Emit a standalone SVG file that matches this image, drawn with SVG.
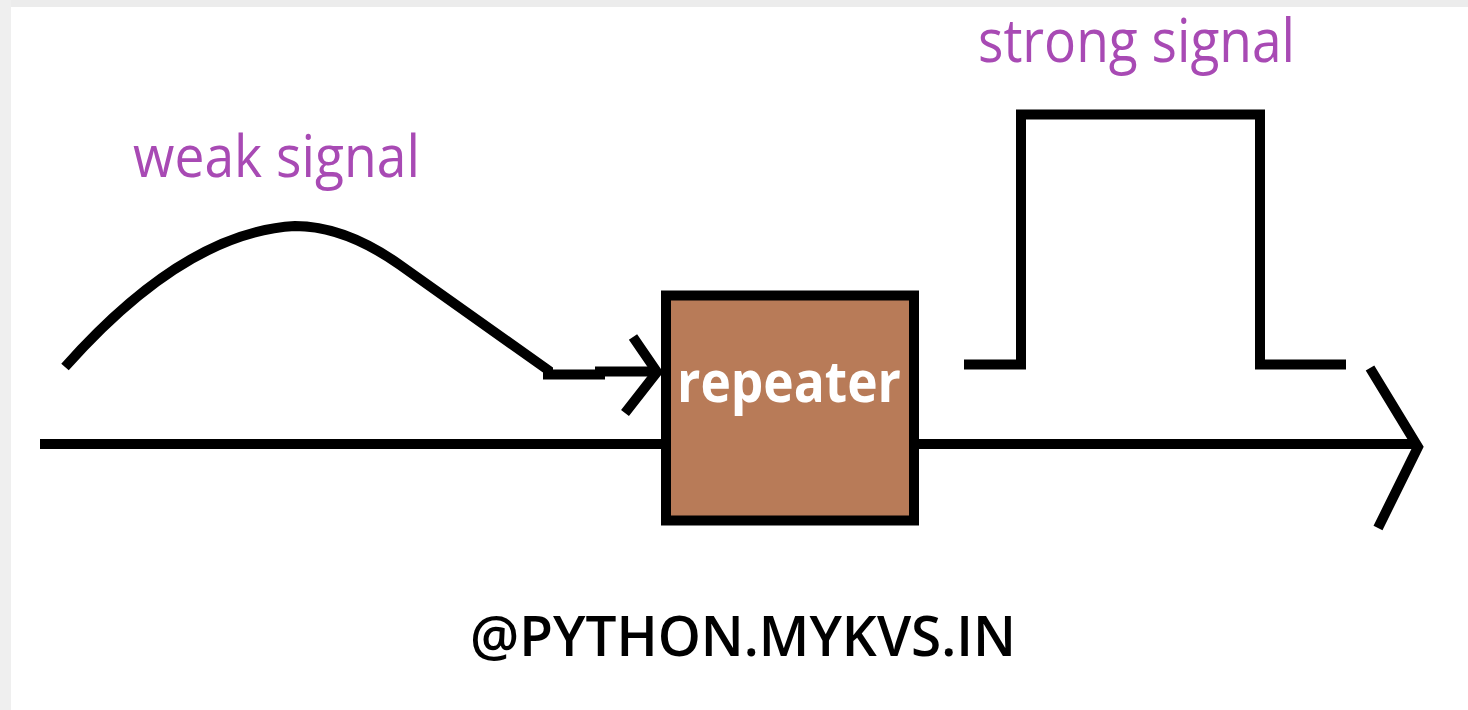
<svg xmlns="http://www.w3.org/2000/svg" width="1468" height="710" viewBox="0 0 1468 710">
  <style>
    .wire { fill: none; stroke: #000; stroke-width: 10; stroke-linejoin: miter; stroke-linecap: butt; }
    .lbl { font-family: "Open Sans", "Liberation Sans", sans-serif; fill: #A84AB4; }
  </style>
  <rect x="0" y="0" width="1468" height="710" fill="#ffffff"/>
  <rect x="0" y="0" width="1468" height="7" fill="#ececec"/>
  <rect x="0" y="0" width="11" height="710" fill="#efefef"/>

  <g id="connectors">
    <path id="axis" class="wire" d="M40,444 L666,444 M914,444 L1418,444"/>
    <path id="axis-head" class="wire" d="M1370,368 L1418,447 L1378,528"/>
    <path id="weak-wave" class="wire" d="M65,367 Q185,232 295,226 Q345,226 400,265 L548,370 L548,374.5 L600,374.5 L600,371.5 L657,371.5"/>
    <path id="weak-head" class="wire" d="M633,337 L657,372 L625,413"/>
    <path id="strong-wave" class="wire" d="M964,364.5 L1021,364.5 L1021,114.5 L1260,114.5 L1260,364.5 L1346,364.5"/>
  </g>

  <g id="repeater">
    <rect x="666" y="295.5" width="248" height="225" fill="#B87B58" stroke="#000" stroke-width="10"/>
    <text x="677" y="402" font-family="'Open Sans', 'Liberation Sans', sans-serif" font-weight="bold" font-size="58" fill="#ffffff" textLength="224" lengthAdjust="spacingAndGlyphs">repeater</text>
  </g>

  <g id="weak-label">
    <text class="lbl" x="133" y="177" font-size="58" textLength="287" lengthAdjust="spacingAndGlyphs">weak signal</text>
  </g>
  <g id="strong-label">
    <text class="lbl" x="978" y="62" font-size="60" textLength="317" lengthAdjust="spacingAndGlyphs">strong signal</text>
  </g>
  <g id="watermark">
    <text x="470" y="656" font-family="'Open Sans', 'Liberation Sans', sans-serif" font-weight="600" font-size="56" fill="#000" textLength="546" lengthAdjust="spacingAndGlyphs">@PYTHON.MYKVS.IN</text>
  </g>
</svg>
